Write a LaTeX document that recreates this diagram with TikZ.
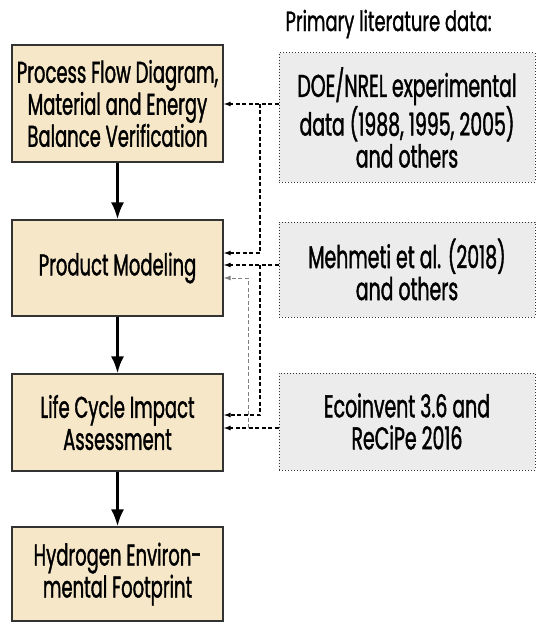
\documentclass[tikz,border=0pt]{standalone}
\usepackage{fontspec}
\setmainfont{Poppins}[FakeStretch=0.6, FakeBold=1.2]
\newfontfamily\titlefont{Poppins}[FakeStretch=0.64, FakeBold=1.0]
\usetikzlibrary{arrows.meta}
\definecolor{beige}{HTML}{F6E7C9}
\definecolor{srcgray}{HTML}{ECECEC}
\definecolor{edge}{HTML}{333333}
\tikzset{
  stage/.style={draw=edge, line width=1.2pt, fill=beige, minimum width=211pt, align=center, font=\fontsize{30}{32}\selectfont, inner sep=2pt},
  source/.style={draw=black!80, dotted, line width=1pt, fill=srcgray, minimum width=256pt, align=center, font=\fontsize{31.5}{32}\selectfont, inner sep=2pt},
  flow/.style={line width=2.8pt, -{Latex[length=17pt,width=13pt]}},
  feed/.style={line width=1.1pt, dash pattern=on 4pt off 2.5pt, -{Latex[length=7pt,width=5pt]}},
  feedgray/.style={line width=1pt, draw=black!50, dash pattern=on 4pt off 2.5pt, -{Latex[length=7pt,width=5pt]}},
}
\begin{document}
\begin{tikzpicture}[x=1pt,y=-1pt]
\useasboundingbox[fill=white] (0,0) rectangle (537,623);
\node[stage, minimum height=117pt] (b1) at (117.5,103.5) {Process Flow Diagram,\\Material and Energy\\Balance Verification};
\node[stage, minimum height=96pt] (b2) at (117.5,268) {Product Modeling};
\node[stage, minimum height=97pt] (b3) at (117.5,422.5) {Life Cycle Impact\\Assessment};
\node[stage, minimum height=94pt] (b4) at (117.5,574) {Hydrogen Environ-\\mental Footprint};

\node[font=\titlefont\fontsize{28}{30}\selectfont, anchor=west] (title) at (282,24) {Primary literature data:};
\node[source, minimum height=129pt] (s1) at (407,117.5) {DOE/NREL experimental\\data (1988, 1995, 2005)\\and others};
\node[source, minimum height=95pt] (s2) at (407,269.5) {Mehmeti et al. (2018)\\and others};
\node[source, minimum height=97pt] (s3) at (407,421.5) {Ecoinvent 3.6 and\\ReCiPe 2016};

\draw[flow] (b1) -- (b2);
\draw[flow] (b2) -- (b3);
\draw[flow] (b3) -- (b4);

\coordinate (j1) at (260,104);
\coordinate (k1) at (260,253);
\coordinate (j2) at (260,265);
\coordinate (k2) at (260,415);
\coordinate (j3) at (248,428);
\coordinate (k3) at (248,278);

\draw[feedgray] (j3) -- (k3) -- (k3 -| b2.east);
\draw[feed] (s1.west |- j1) -- (j1 -| b1.east);
\draw[feed] (j1) -- (k1) -- (k1 -| b2.east);
\draw[feed] (s2.west |- j2) -- (j2 -| b2.east);
\draw[feed] (j2) -- (k2) -- (k2 -| b3.east);
\draw[feed] (s3.west |- j3) -- (j3 -| b3.east);
\end{tikzpicture}
\end{document}
